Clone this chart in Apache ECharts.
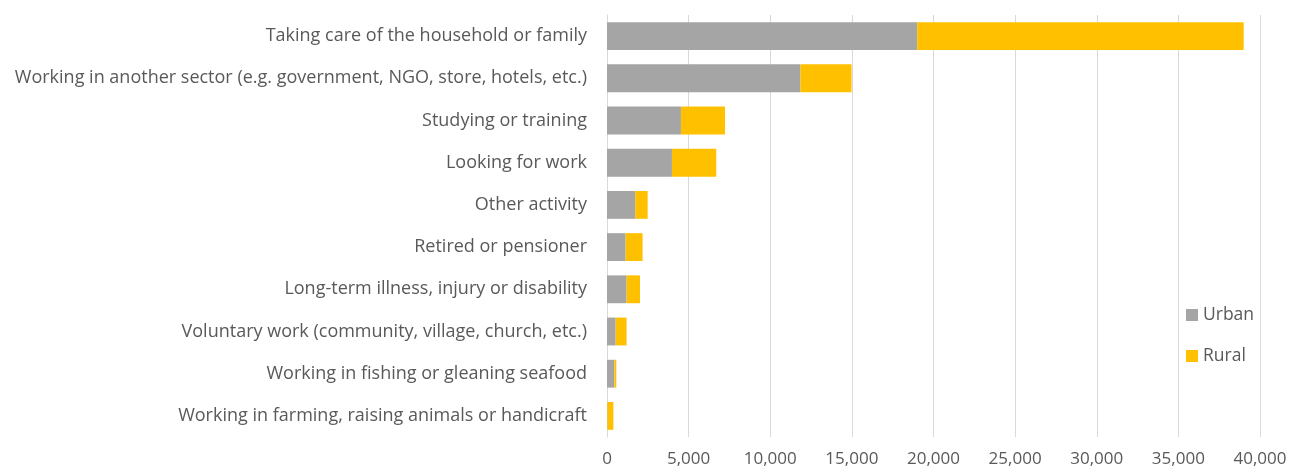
<!DOCTYPE html>
<html><head><meta charset="utf-8">
<script src="https://cdn.jsdelivr.net/npm/echarts@6/dist/echarts.min.js"></script>
<style>html,body{margin:0;padding:0;background:#fff}#c{width:1290px;height:472px}</style>
</head><body><div id="c"></div>
<script>
const categories = [
  "Taking care of the household or family",
  "Working in another sector (e.g. government, NGO, store, hotels, etc.)",
  "Studying or training",
  "Looking for work",
  "Other activity",
  "Retired or pensioner",
  "Long-term illness, injury or disability",
  "Voluntary work (community, village, church, etc.)",
  "Working in fishing or gleaning seafood",
  "Working in farming, raising animals or handicraft"
];
const urban = [19000, 11850, 4530, 3980, 1730, 1140, 1200, 530, 450, 20];
const rural = [20000, 3130, 2700, 2710, 760, 1040, 820, 670, 120, 370];
const seriesNames = ["Urban", "Rural"];
const colors = ["#A5A5A5", "#FFC000"];
const fontFam = "Open Sans, Noto Sans, sans-serif";

const chart = echarts.init(document.getElementById('c'));
chart.setOption({
  animation: false,
  grid: {left: 607, right: 30, top: 15, bottom: 35, containLabel: false},
  legend: {
    orient: 'vertical', left: 1181, top: 301, itemWidth: 12, itemHeight: 12, itemGap: 23,
    icon: 'rect',
    textStyle: {color: '#595959', fontSize: 17.5, fontFamily: fontFam},
    data: seriesNames
  },
  xAxis: {
    type: 'value', min: 0, max: 40000, interval: 5000,
    axisLine: {show: false}, axisTick: {show: false},
    splitLine: {lineStyle: {color: '#D9D9D9', width: 1}},
    axisLabel: {color: '#595959', fontSize: 17, fontFamily: fontFam, margin: 14,
      formatter: v => v.toLocaleString('en-US')}
  },
  yAxis: {
    type: 'category', data: categories, inverse: true,
    axisLine: {show: true, lineStyle: {color: '#D9D9D9'}}, axisTick: {show: false},
    axisLabel: {color: '#595959', fontSize: 18, fontFamily: fontFam, margin: 20}
  },
  series: [
    {name: seriesNames[0], type: 'bar', stack: 'a', data: urban, barWidth: '66%', itemStyle: {color: colors[0]}},
    {name: seriesNames[1], type: 'bar', stack: 'a', data: rural, barWidth: '66%', itemStyle: {color: colors[1]}}
  ]
});
</script></body></html>
